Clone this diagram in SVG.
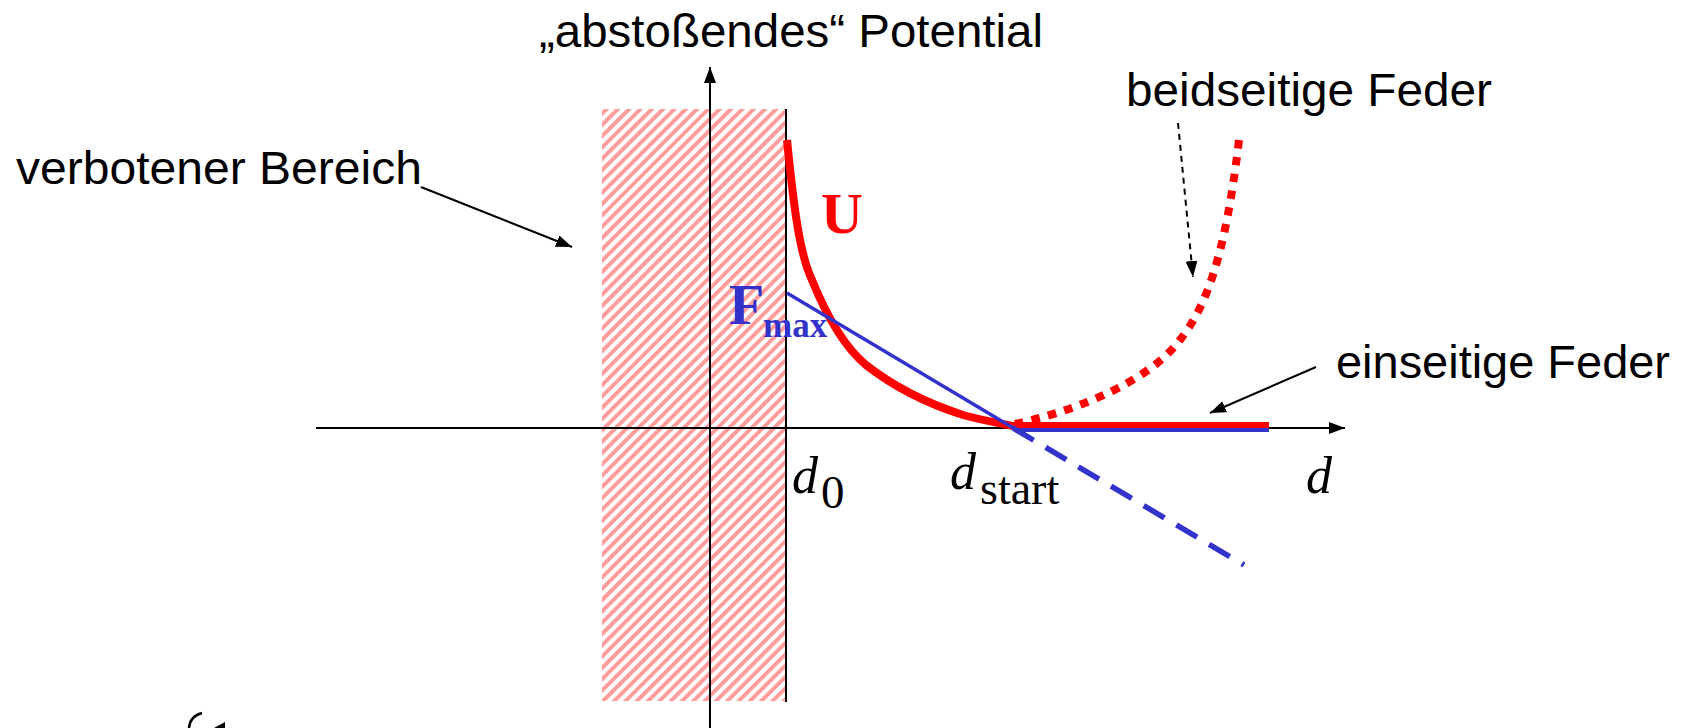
<svg xmlns="http://www.w3.org/2000/svg" width="1689" height="728" viewBox="0 0 1689 728">
<style>
.lbl{font-family:"Liberation Sans",Arial,sans-serif;font-size:46px;fill:#000}
.ser{font-family:"Liberation Serif","Times New Roman",serif}
.it{font-style:italic}
.ax{stroke:#000;stroke-width:2;fill:none}
.ptr{stroke:#000;stroke-width:2;fill:none}
</style>
<defs>
<pattern id="hatch" patternUnits="userSpaceOnUse" width="8" height="8" patternTransform="rotate(45)">
<rect width="8" height="8" fill="#fff"/>
<rect x="0" y="0" width="4" height="8" fill="#FF9C9C"/>
</pattern>
<marker id="ah" viewBox="0 0 16 12" refX="16" refY="6" markerWidth="16" markerHeight="12" markerUnits="userSpaceOnUse" orient="auto">
<path d="M0,0 L16,6 L0,12 Z" fill="#000"/>
</marker>
</defs>

<g id="forbidden-region">
<rect x="602" y="109" width="183" height="592" fill="url(#hatch)"/>
<line x1="786" y1="109" x2="786" y2="702" stroke="#000" stroke-width="2"/>
</g>

<g id="axes">
<line class="ax" x1="710" y1="728" x2="710" y2="67" marker-end="url(#ah)"/>
<line class="ax" x1="316" y1="428" x2="1345" y2="428" marker-end="url(#ah)"/>
</g>

<g id="curves">
<path id="U-curve" d="M787,140 C794,210 800,255 812,280 C825,312 842,345 866,365 C898,390 932,405 963,415 C985,421 1000,423 1013,426 L1269,426" fill="none" stroke="#FF0000" stroke-width="8" stroke-linejoin="round"/>
<path id="spring-both" d="M1015,424 C1080,410 1150,380 1180,340 C1205,308 1225,260 1239,140" fill="none" stroke="#FF0000" stroke-width="8" stroke-dasharray="8.5 8.5"/>
<line id="F-line" x1="787" y1="293" x2="1015" y2="429" stroke="#3333CC" stroke-width="3.5"/>
<line id="F-dashed" x1="1013" y1="428" x2="1244" y2="565" stroke="#3333CC" stroke-width="5.5" stroke-dasharray="24 14"/>
<line id="F-flat" x1="1015" y1="430" x2="1269" y2="430" stroke="#3333CC" stroke-width="4"/>
</g>

<g id="connectors">
<line class="ptr" x1="421" y1="187" x2="572" y2="247" marker-end="url(#ah)"/>
<line class="ptr" x1="1178" y1="123" x2="1193" y2="277" stroke-dasharray="6 5" marker-end="url(#ah)"/>
<line class="ptr" x1="1316" y1="367" x2="1210" y2="413" marker-end="url(#ah)"/>
<path d="M202,713 Q190,716 189,728" fill="none" stroke="#000" stroke-width="2.5"/>
<path d="M214,728 L225,722 L225,728 Z" fill="#000"/>
</g>

<g id="labels">
<text class="lbl" x="539" y="47" textLength="504" lengthAdjust="spacingAndGlyphs">„abstoßendes“ Potential</text>
<text class="lbl" x="16" y="184" textLength="406" lengthAdjust="spacingAndGlyphs">verbotener Bereich</text>
<text class="lbl" x="1126" y="106" textLength="366" lengthAdjust="spacingAndGlyphs">beidseitige Feder</text>
<text class="lbl" x="1336" y="378" textLength="334" lengthAdjust="spacingAndGlyphs">einseitige Feder</text>
<text class="ser" x="821" y="233" font-size="58" font-weight="bold" fill="#FF0000">U</text>
<text class="ser" x="729" y="324" font-size="58" font-weight="bold" fill="#3333CC">F</text>
<text class="ser" x="763" y="337" font-size="35" font-weight="bold" fill="#3333CC">max</text>
<text class="ser it" x="792" y="493" font-size="52">d</text>
<text class="ser" x="821" y="508" font-size="47">0</text>
<text class="ser it" x="950" y="489" font-size="52">d</text>
<text class="ser" x="980" y="504" font-size="46">start</text>
<text class="ser it" x="1306" y="493" font-size="52">d</text>
</g>
</svg>
